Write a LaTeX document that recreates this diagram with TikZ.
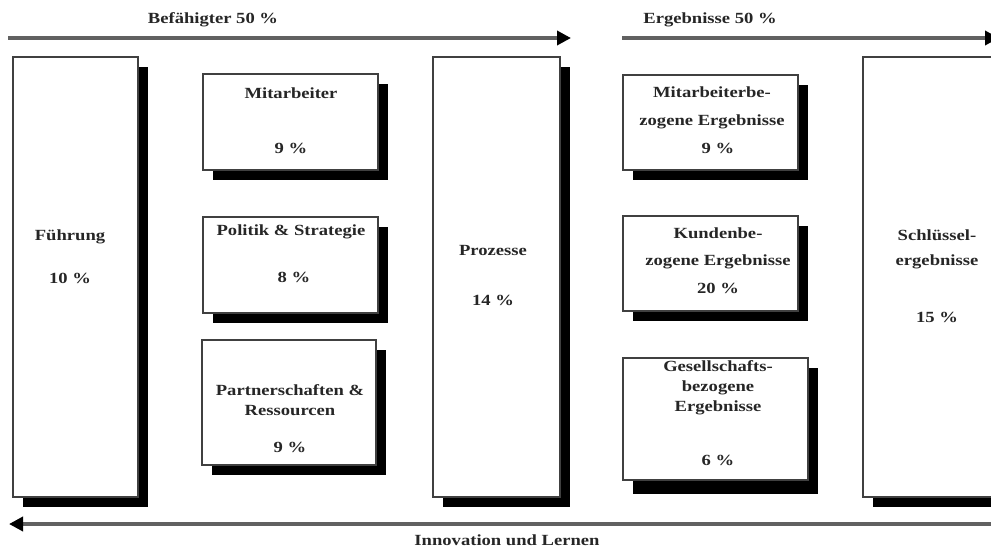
\documentclass[tikz,border=0pt]{standalone}
\usepackage{fontspec}
\setmainfont[FakeStretch=1.2]{Liberation Serif}
\usetikzlibrary{arrows.meta,shadows}
\begin{document}
\begin{tikzpicture}[x=1pt,y=-1pt,
  box/.style={draw=black!75,line width=1.6pt,fill=white,inner sep=0pt,
    drop shadow={fill=black,opacity=1,shadow xshift=10pt,shadow yshift=-10pt}},
  txt/.style={font=\fontsize{15.5}{27}\selectfont\bfseries,align=center,inner sep=0pt,text=black!85},
  flow/.style={line width=3.5pt,draw=black!62,-{Triangle[length=14pt,width=14pt,color=black,fill=black]}}]
\useasboundingbox (0,0) rectangle (991,547);
\clip (0,0) rectangle (991,547);
% boxes
\node[box,minimum width=125pt,minimum height=440pt] (fue) at (75.5,277) {};
\node[box,minimum width=175pt,minimum height=96pt] (mit) at (290.5,122) {};
\node[box,minimum width=175pt,minimum height=96pt] (pol) at (290.5,265) {};
\node[box,minimum width=174pt,minimum height=125pt] (par) at (289,402.5) {};
\node[box,minimum width=127pt,minimum height=440pt] (pro) at (496.5,277) {};
\node[box,minimum width=175pt,minimum height=95pt] (mbe) at (710.5,122.5) {};
\node[box,minimum width=175pt,minimum height=95pt] (kbe) at (710.5,263.5) {};
\node[box,minimum width=185pt,minimum height=122pt,
  drop shadow={fill=black,opacity=1,shadow xshift=10pt,shadow yshift=-14pt}] (gbe) at (715.5,419) {};
\node[box,minimum width=137pt,minimum height=440pt] (sch) at (931.5,277) {};
% texts
\node[txt] (t1) at (70,237) {Führung};
\node[txt] (t2) at (70,278) {10 \%};
\node[txt] (t3) at (291,93) {Mitarbeiter};
\node[txt] (t4) at (291,148) {9 \%};
\node[txt] (t5) at (291,232) {Politik \& Strategie};
\node[txt] (t6) at (294,277) {8 \%};
\node[txt,font=\fontsize{15.5}{20}\selectfont\bfseries] (t7) at (290,400) {Partnerschaften \&\\Ressourcen};
\node[txt] (t8) at (290,447) {9 \%};
\node[txt] (t9) at (493,250) {Prozesse};
\node[txt] (t10) at (493,300) {14 \%};
\node[txt,font=\fontsize{15.5}{28}\selectfont\bfseries] (t11) at (712,107.5) {Mitarbeiterbe-\\zogene Ergebnisse};
\node[txt] (t12) at (718,148) {9 \%};
\node[txt,font=\fontsize{15.5}{27}\selectfont\bfseries] (t13) at (718,248.5) {Kundenbe-\\zogene Ergebnisse};
\node[txt] (t14) at (718,288) {20 \%};
\node[txt,font=\fontsize{15.5}{20}\selectfont\bfseries] (t15) at (718,388) {Gesellschafts-\\bezogene\\Ergebnisse};
\node[txt] (t16) at (718,460) {6 \%};
\node[txt,font=\fontsize{15.5}{25}\selectfont\bfseries] (t17) at (937,249.5) {Schlüssel-\\ergebnisse};
\node[txt] (t18) at (937,317) {15 \%};
% arrows
\coordinate (a1) at (8,38);
\coordinate (a2) at (571,38);
\coordinate (b1) at (622,38);
\coordinate (b2) at (999,38);
\coordinate (c1) at (995,524);
\coordinate (c2) at (9,524);
\draw[flow] (a1) -- (a2);
\draw[flow] (b1) -- (b2);
\draw[flow] (c1) -- (c2);
\node[txt] (l1) at (213,20) {Befähigter 50 \%};
\node[txt] (l2) at (710,20) {Ergebnisse 50 \%};
\node[txt] (l3) at (507,540) {Innovation und Lernen};
\end{tikzpicture}
\end{document}
